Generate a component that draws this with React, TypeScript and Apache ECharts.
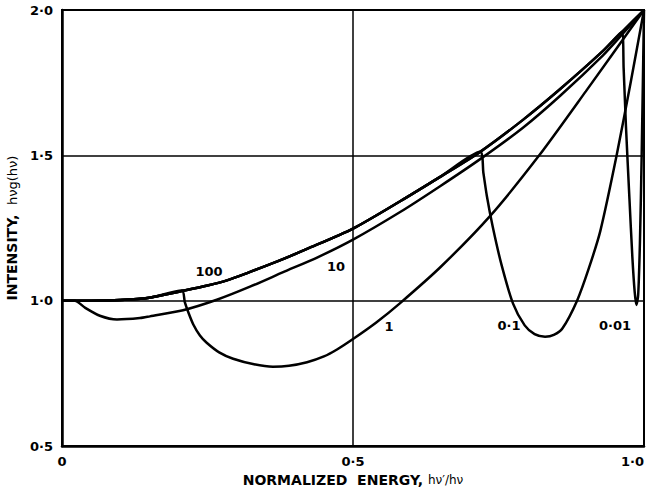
import React, { useEffect, useRef } from "react";
import * as echarts from "echarts";

// Curve data: [normalized energy, intensity]
const curve100: [number, number][] = [
  [0, 1.0], [0.05, 1.0], [0.1, 1.002], [0.15, 1.01], [0.206, 1.033], [0.25, 1.052],
  [0.2835, 1.07], [0.318, 1.095], [0.37, 1.135], [0.421, 1.178], [0.5, 1.248],
  [0.581, 1.342], [0.649, 1.425], [0.7185, 1.512], [0.792, 1.622], [0.856, 1.728],
  [0.93, 1.86], [0.962, 1.925], [1.0, 2.0],
];
const curve10: [number, number][] = [
  [0, 1.0], [0.022, 1.0], [0.04, 0.975], [0.065, 0.948], [0.0945, 0.935], [0.134, 0.94],
  [0.151, 0.946], [0.208, 0.967], [0.266, 1.003], [0.323, 1.048], [0.38, 1.098],
  [0.44, 1.15], [0.5, 1.21], [0.581, 1.305], [0.649, 1.393], [0.7185, 1.487],
  [0.792, 1.595], [0.856, 1.705], [0.93, 1.845], [0.962, 1.915], [1.0, 2.0],
];
const curve1: [number, number][] = [
  [0, 1.0], [0.05, 1.0], [0.1, 1.002], [0.15, 1.01], [0.206, 1.035],
  [0.211, 0.995], [0.217, 0.96], [0.2256, 0.918], [0.237, 0.88], [0.2486, 0.855],
  [0.27, 0.822], [0.294, 0.8], [0.33, 0.781], [0.3625, 0.773], [0.39, 0.776],
  [0.421, 0.788], [0.45, 0.808], [0.4725, 0.832], [0.5, 0.868], [0.54, 0.925],
  [0.58, 0.99], [0.65, 1.115], [0.735, 1.29], [0.82, 1.5], [0.9, 1.72], [1.0, 2.0],
];
const curve01: [number, number][] = [
  [0, 1.0], [0.05, 1.0], [0.1, 1.002], [0.15, 1.01], [0.206, 1.033], [0.25, 1.052],
  [0.2835, 1.07], [0.318, 1.095], [0.37, 1.135], [0.421, 1.178], [0.5, 1.248],
  [0.581, 1.342], [0.649, 1.425], [0.7185, 1.512],
  [0.724, 1.44], [0.73, 1.36], [0.74, 1.255], [0.755, 1.125], [0.775, 0.99],
  [0.795, 0.915], [0.812, 0.885], [0.83, 0.876], [0.845, 0.882], [0.86, 0.905],
  [0.885, 1.0], [0.905, 1.11], [0.925, 1.24], [0.953, 1.5], [0.977, 1.75], [1.0, 2.0],
];
const curve001: [number, number][] = [
  [0, 1.0], [0.05, 1.0], [0.1, 1.002], [0.15, 1.01], [0.206, 1.033], [0.25, 1.052],
  [0.2835, 1.07], [0.318, 1.095], [0.37, 1.135], [0.421, 1.178], [0.5, 1.248],
  [0.581, 1.342], [0.649, 1.425], [0.7185, 1.512], [0.792, 1.622], [0.856, 1.728],
  [0.93, 1.86], [0.962, 1.925],
  [0.965, 1.8], [0.969, 1.6], [0.975, 1.35], [0.98, 1.15], [0.984, 1.03],
  [0.987, 0.985], [0.99, 1.02], [0.993, 1.2], [0.996, 1.5], [1.0, 2.0],
];

const curveNames = ["100", "10", "1", "0·1", "0·01"];
const xTickText: Record<string, string> = { "0": "0", "0.5": "0·5", "1": "1·0" };
const yTickText: Record<string, string> = { "0.5": "0·5", "1": "1·0", "1.5": "1·5", "2": "2·0" };

const FONT = "DejaVu Sans";

export default function App() {
  const ref = useRef<HTMLDivElement>(null);
  useEffect(() => {
    const chart = echarts.init(ref.current!, null, { renderer: "svg" });
    const allCurves = [curve100, curve10, curve1, curve01, curve001];
    const labelPos: [number, number][] = [
      [209, 271], [336, 266], [389, 326], [509, 325], [615, 325],
    ];
    chart.setOption({
      animation: false,
      backgroundColor: "#fff",
      grid: {
        left: 62, right: 2, top: 10, bottom: 45,
        containLabel: false,
        outerBoundsMode: "none",
        show: true, borderColor: "#000", borderWidth: 2,
      },
      xAxis: {
        type: "value", min: 0, max: 1, interval: 0.5,
        axisLine: { show: true, lineStyle: { color: "#000", width: 2.5 } },
        axisTick: { show: false },
        axisLabel: {
          color: "#000", fontFamily: FONT, fontWeight: "bold", fontSize: 13, margin: 9,
          alignMaxLabel: "right",
          formatter: (v: number) => xTickText[String(v)] ?? String(v),
        },
        splitLine: { show: true, lineStyle: { color: "#000", width: 1.5 } },
        name: "{a|NORMALIZED  ENERGY, }{b|hν′/hν}",
        nameLocation: "middle",
        nameGap: 25,
        nameTextStyle: {
          rich: {
            a: { fontFamily: FONT, fontWeight: "bold", fontSize: 14, color: "#000" },
            b: { fontFamily: FONT, fontSize: 12, color: "#000" },
          },
        },
      },
      yAxis: {
        type: "value", min: 0.5, max: 2.0, interval: 0.5,
        axisLine: { show: true, lineStyle: { color: "#000", width: 2.5 } },
        axisTick: { show: false },
        axisLabel: {
          color: "#000", fontFamily: FONT, fontWeight: "bold", fontSize: 13, margin: 9,
          formatter: (v: number) => yTickText[String(v)] ?? String(v),
        },
        splitLine: { show: true, lineStyle: { color: "#000", width: 1.5 } },
        name: "{a|INTENSITY,  }{b|hνg(hν)}",
        nameLocation: "middle",
        nameRotate: 90,
        nameGap: 42,
        nameTextStyle: {
          rich: {
            a: { fontFamily: FONT, fontWeight: "bold", fontSize: 14, color: "#000" },
            b: { fontFamily: FONT, fontSize: 13, color: "#000" },
          },
        },
      },
      series: allCurves.map((d, i) => ({
        name: curveNames[i],
        type: "line",
        data: d,
        showSymbol: false,
        symbol: "none",
        smooth: 0.25,
        lineStyle: { color: "#000", width: 2.5 },
        z: 3,
      })),
      graphic: curveNames.map((t, i) => ({
        type: "text",
        x: labelPos[i][0],
        y: labelPos[i][1],
        style: {
          text: t,
          fill: "#000",
          font: `bold 13px "${FONT}"`,
          textAlign: "center",
          textVerticalAlign: "middle",
        },
        z: 10,
      })),
    });
    return () => chart.dispose();
  }, []);
  return (
    <div
      ref={ref}
      style={{ position: "fixed", left: 0, top: 0, width: 646, height: 491, background: "#fff" }}
    />
  );
}
